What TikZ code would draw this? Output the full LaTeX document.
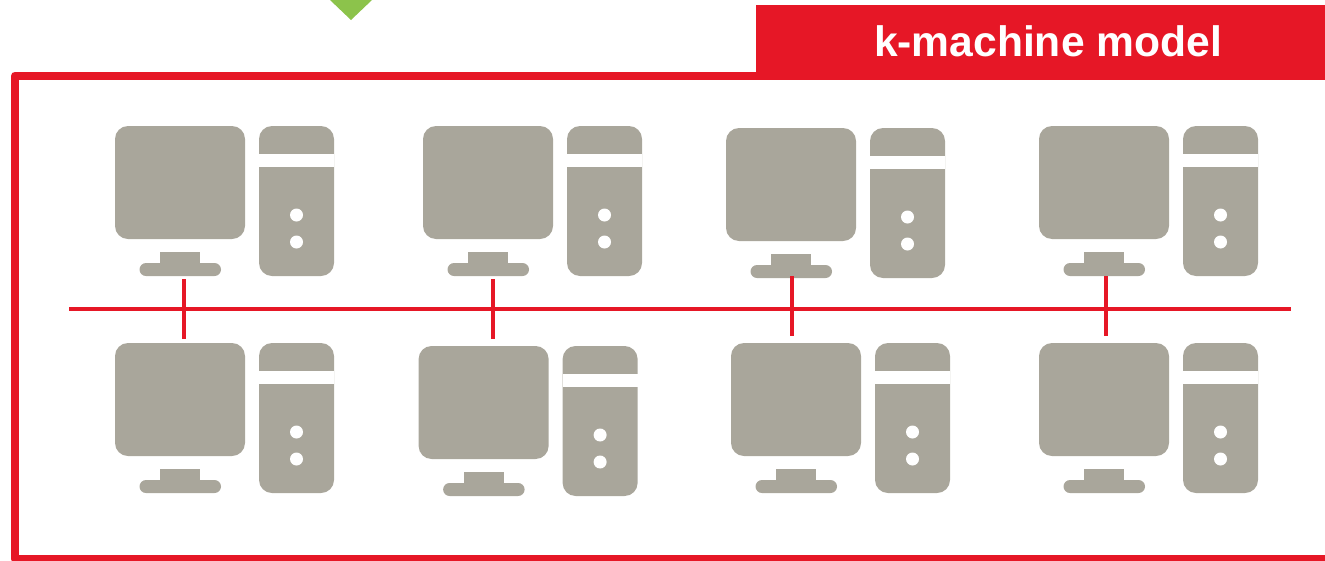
\documentclass[tikz,border=0pt]{standalone}
\usepackage{fontspec}
\setmainfont{Liberation Sans}
\definecolor{kred}{HTML}{E61726}
\definecolor{kgrey}{HTML}{A9A69B}
\definecolor{kgreen}{HTML}{8CC34B}
\tikzset{
    hardware/.style={fill=kgrey, draw=none},
    cutout/.style={fill=white, draw=none},
    wire/.style={draw=kred, line width=4},
    machine/.pic={
        % Monitor
        \fill[hardware, rounded corners=13] (0,0) rectangle (130,113);
        \fill[hardware] (45,126) rectangle (85,140);
        \fill[hardware, rounded corners=6.5] (24.5,137) rectangle (106,150);
        % Tower
        \fill[hardware, rounded corners=13] (144,0) rectangle (219,150);
        \fill[cutout] (144,27.5) rectangle (219,40.5);
        \fill[cutout] (181.5,89) circle (6.5);
        \fill[cutout] (181.5,116) circle (6.5);
    }
}
\begin{document}
\begin{tikzpicture}[x=1pt, y=-1pt]
    \useasboundingbox (0,0) rectangle (1325,560);

    % Green arrow tip
    \fill[kgreen] (330,0) -- (372,0) -- (351,20) -- cycle;

    % Outer frame
    \draw[kred, line width=8, line join=round] (1325,75.5) -- (15,75.5) -- (15,559) -- (1325,559);

    % Title tab
    \fill[kred] (756,5) rectangle (1325,79);
    \node[anchor=base, text=white, font=\fontsize{42.6}{50}\selectfont\bfseries, inner sep=0] (title) at (1048,56.5) {k-machine model};

    % Top row
    \pic at (115,126) {machine};
    \pic at (423,126) {machine};
    \pic at (726,128) {machine};
    \pic at (1039,126) {machine};

    % Bottom row
    \pic at (115,343) {machine};
    \pic at (418.6,346) {machine};
    \pic at (731,343) {machine};
    \pic at (1039,343) {machine};

    % Network
    \coordinate (busw) at (69,309);
    \coordinate (buse) at (1291,309);
    \draw[wire] (busw) -- (buse);

    \coordinate (topa) at (184,279);
    \coordinate (bota) at (184,339);
    \coordinate (topb) at (492.5,279);
    \coordinate (botb) at (492.5,339);
    \coordinate (topc) at (792,276);
    \coordinate (botc) at (792,336);
    \coordinate (topd) at (1106.3,276);
    \coordinate (botd) at (1106.3,336);
    \draw[wire] (topa) -- (bota);
    \draw[wire] (topb) -- (botb);
    \draw[wire] (topc) -- (botc);
    \draw[wire] (topd) -- (botd);
\end{tikzpicture}
\end{document}
